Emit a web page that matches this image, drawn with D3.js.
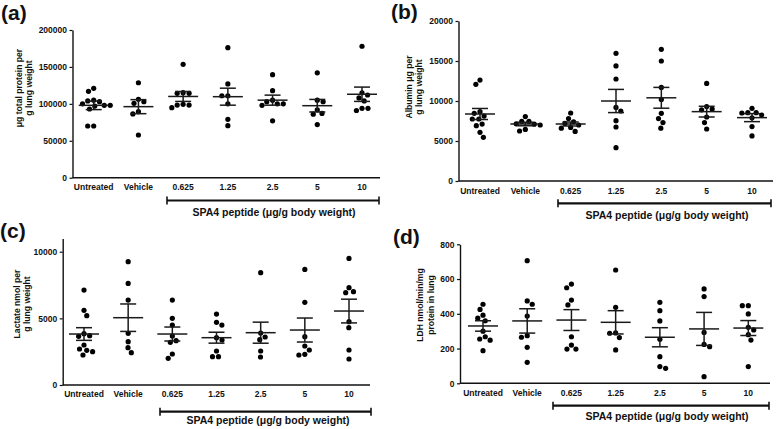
<!DOCTYPE html>
<html><head><meta charset="utf-8">
<script src="https://cdn.jsdelivr.net/npm/d3@7/dist/d3.min.js"></script>
<style>
html,body{margin:0;padding:0;background:#fff;}
svg{display:block;font-family:"Liberation Sans",Arial,sans-serif;font-weight:bold;}
</style></head>
<body><svg id="chart" width="778" height="429"></svg>
<script>
const categories = ["Untreated","Vehicle","0.625","1.25","2.5","5","10"];
const bracketLabel = "SPA4 peptide (\u03BCg/g body weight)";

// (a) total protein
const proteinValues = [
 [121000,117000,105000,104000,103000,100000,98000,98000,97000,93000,70000,70000],
 [128600,106200,102900,100700,89400,86300,57800],
 [153500,115100,114300,114300,99400,98400,98400,94800],
 [176000,127000,111000,111000,100000,79000,70400],
 [139500,117800,105000,103000,100000,100000,98000,77000],
 [142000,105000,103000,92000,87000,86000,72000],
 [178000,115000,112000,108000,104000,94000,94000,91000]
];
const proteinMeans = [98000,96200,110000,109700,105000,97500,113000];
const proteinSems  = [5800,9500,6700,11500,6800,8500,9700];
const proteinTicks = [0,50000,100000,150000,200000];
const proteinLabel = ["\u03BCg total protein per","g lung weight"];

// (b) albumin
const albuminValues = [
 [12620,12080,8670,8460,8120,7750,7750,7120,6920,6080,5460],
 [8050,7450,7450,7150,7100,7000,6450,6250],
 [8500,7800,7400,7200,7000,6700,6600,6200],
 [15960,14380,12750,9200,8750,7540,6750,4170],
 [16460,15000,11700,10200,8460,7800,7300,6600],
 [12200,9300,9000,8900,8000,7300,6500],
 [9080,8540,8540,8500,8250,7900,6800,5630]
];
const albuminMeans = [8375,7125,7125,10000,10400,8670,7920];
const albuminSems  = [690,220,250,1450,1300,670,500];
const albuminTicks = [0,5000,10000,15000,20000];
const albuminLabel = ["Albumin \u03BCg per","g lung weight"];

// (c) lactate
const lactateValues = [
 [7125,5600,5200,3850,3700,3650,3000,2700,2600,2500,2250],
 [9250,7625,6375,3875,3250,2800,2425],
 [6375,5000,4500,3675,3325,3200,2325,2000],
 [5325,4700,4500,3550,3375,2550,2125,2125],
 [8425,3900,3600,3400,2550,2100],
 [8675,6200,3625,2925,2625,2300,2250],
 [9500,7300,7000,6925,4750,4300,2625,1950]
];
const lactateMeans = [3825,5050,3825,3550,3925,4125,5550];
const lactateSems  = [475,1030,525,410,790,900,890];
const lactateTicks = [0,5000,10000];
const lactateLabel = ["Lactate nmol per","g lung weight"];

// (d) LDH
const ldhValues = [
 [455,425,392,375,360,300,268,255,248,188],
 [706,474,455,387,274,265,207,121],
 [571,550,479,451,268,220,197,197],
 [652,437,290,288,263,192],
 [466,418,359,253,153,96,86],
 [543,499,293,224,211,38],
 [447,447,399,322,307,280,249,96]
];
const ldhMeans = [330,359,364,351,265,313,318];
const ldhSems  = [30,70,60,67,55,95,43];
const ldhTicks = [0,200,400,600,800];
const ldhLabel = ["LDH nmol/min/mg","protein in lung"];

const panels = [
 {tag:"(a)", values:proteinValues, means:proteinMeans, sems:proteinSems, ticks:proteinTicks, ymax:200000, ylab:proteinLabel,
  ax:72.5, axEnd:380, yB:177.7, yT:30, c0:93.7, c1:362, tagX:1, tagY:20, ylX:[19,29], ylY:88, tlY:190,
  br:[167,379,200.5], brLab:[274,216]},
 {tag:"(b)", values:albuminValues, means:albuminMeans, sems:albuminSems, ticks:albuminTicks, ymax:20000, ylab:albuminLabel,
  ax:458.5, axEnd:773, yB:181, yT:21, c0:480, c1:752, tagX:391, tagY:19, ylX:[409,418.5], ylY:87, tlY:194,
  br:[558,771,203.3], brLab:[667,219]},
 {tag:"(c)", values:lactateValues, means:lactateMeans, sems:lactateSems, ticks:lactateTicks, ymax:11000, ylab:lactateLabel,
  ax:62.7, axEnd:370, yB:385, yT:238.4, c0:84, c1:349, tagX:0, tagY:238, ylX:[16.7,26.7], ylY:304, tlY:397,
  br:[160,371,411.7], brLab:[268,423.5]},
 {tag:"(d)", values:ldhValues, means:ldhMeans, sems:ldhSems, ticks:ldhTicks, ymax:800, ylab:ldhLabel,
  ax:460, axEnd:770, yB:383.3, yT:244.3, c0:483, c1:748.3, tagX:393, tagY:243.5, ylX:[420,430.7], ylY:305, tlY:395.5,
  br:[553,769,405.7], brLab:[667,419.5]}
];

const svg = d3.select("#chart");
const R = 2.6, D = 6;

function swarm(vals, y){
  const pts = vals.map(v=>({v, y:y(v), x:0}));
  const order = pts.slice().sort((a,b)=>a.y-b.y);
  const placed = [];
  let flip = 1;
  for(const p of order){
    const cands=[0];
    for(const q of placed){
      const dy=Math.abs(q.y-p.y);
      if(dy<D){const dx=Math.sqrt(D*D-dy*dy); cands.push(q.x+dx,q.x-dx);}
    }
    cands.sort((a,b)=>(Math.abs(a)-Math.abs(b)) || (flip*(b-a)));
    for(const c of cands){
      if(placed.every(q=>(q.x-c)*(q.x-c)+(q.y-p.y)*(q.y-p.y)>=D*D-1e-6)){p.x=c;break;}
    }
    flip=-flip;
    placed.push(p);
  }
  return pts;
}

panels.forEach(P=>{
  const g = svg.append("g");
  const x = d3.scalePoint().domain(categories).range([P.c0,P.c1]);
  const y = d3.scaleLinear().domain([0,P.ymax]).range([P.yB,P.yT]);

  const ya = g.append("g").attr("transform",`translate(${P.ax},0)`)
    .call(d3.axisLeft(y).tickValues(P.ticks).tickSize(3).tickSizeOuter(0).tickPadding(2.5).tickFormat(d3.format("d")));
  ya.select(".domain").attr("stroke","#111").attr("stroke-width",1.4);
  ya.selectAll(".tick line").attr("stroke","#111").attr("stroke-width",1.2);
  ya.selectAll(".tick text").attr("font-size",8.5).attr("font-weight","bold")
    .attr("font-family","'Liberation Sans',Arial,sans-serif").attr("fill","#111");

  g.append("line").attr("x1",P.ax).attr("x2",P.axEnd).attr("y1",P.yB).attr("y2",P.yB)
    .attr("stroke","#111").attr("stroke-width",1.4);
  g.selectAll(".xl").data(categories).enter().append("text")
    .attr("x",d=>x(d)).attr("y",P.tlY).attr("text-anchor","middle")
    .attr("font-size",8.5).attr("fill","#111").text(d=>d);

  categories.forEach((c,i)=>{
    const pts = swarm(P.values[i], y);
    g.selectAll(null).data(pts).enter().append("circle")
      .attr("cx",d=>x(c)+d.x).attr("cy",d=>d.y).attr("r",R).attr("fill","#000");
    const m = P.means[i], s = P.sems[i], cx = x(c);
    const ln = (x1,x2,y1,y2)=>g.append("line").attr("x1",x1).attr("x2",x2).attr("y1",y1).attr("y2",y2)
      .attr("stroke","#1a1a1a").attr("stroke-width",1.5);
    ln(cx-15,cx+15,y(m),y(m));
    ln(cx,cx,y(m-s),y(m+s));
    ln(cx-8,cx+8,y(m+s),y(m+s));
    ln(cx-8,cx+8,y(m-s),y(m-s));
  });

  g.append("text").attr("x",P.tagX).attr("y",P.tagY).attr("font-size",21).attr("fill","#111").text(P.tag);

  P.ylab.forEach((t,k)=>{
    g.append("text").attr("transform",`translate(${P.ylX[k]},${P.ylY}) rotate(-90)`)
      .attr("text-anchor","middle").attr("dominant-baseline","central")
      .attr("font-size",8.6).attr("fill","#111").text(t);
  });

  const [b1,b2,by] = P.br;
  g.append("line").attr("x1",b1).attr("x2",b2).attr("y1",by).attr("y2",by).attr("stroke","#111").attr("stroke-width",2.2);
  [b1,b2].forEach(bx=>g.append("line").attr("x1",bx).attr("x2",bx).attr("y1",by-4).attr("y2",by+4)
      .attr("stroke","#111").attr("stroke-width",1.6));
  g.append("text").attr("x",P.brLab[0]).attr("y",P.brLab[1]).attr("text-anchor","middle")
    .attr("font-size",10.5).attr("fill","#111").text(bracketLabel);
});
</script></body></html>
